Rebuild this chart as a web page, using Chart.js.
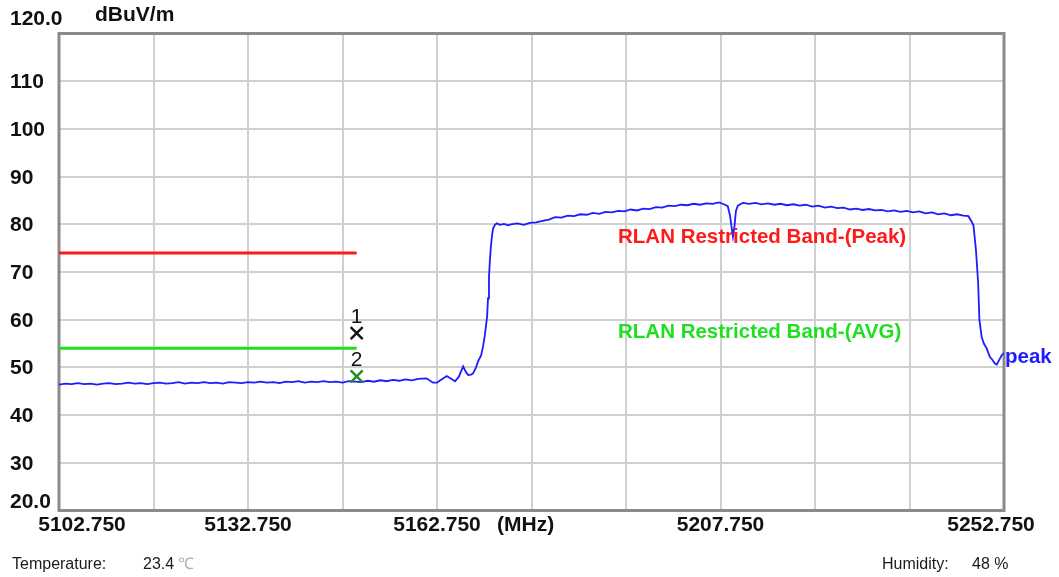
<!DOCTYPE html>
<html>
<head>
<meta charset="utf-8">
<script src="https://cdn.jsdelivr.net/npm/chart.js@4.4.1/dist/chart.umd.min.js"></script>
<style>
  html, body { margin: 0; padding: 0; background: #fff; }
  #wrap { width: 1059px; height: 577px; position: relative; }
</style>
</head>
<body>
<div id="wrap"><canvas id="specChart"></canvas></div>
<script>
// --- data ---
const freqMin = 5102.75;
const freqMax = 5252.75;
const levelMin = 20;
const levelMax = 120;

// vertical grid every 15 MHz
const xGridFreqs = [5102.75, 5117.75, 5132.75, 5147.75, 5162.75, 5177.75, 5192.75, 5207.75, 5222.75, 5237.75, 5252.75];
const xTickFreqs = [5102.75, 5132.75, 5162.75, 5207.75, 5252.75];
const xTickLabels = ['5102.750', '5132.750', '5162.750', '5207.750', '5252.750'];
const yTickValues = [20, 30, 40, 50, 60, 70, 80, 90, 100, 110, 120];
const yTickLabels = ['20.0', '30', '40', '50', '60', '70', '80', '90', '100', '110', '120.0'];

// measured peak trace (MHz / dBuV/m)
const traceFreqs = [
  // noise floor
  5102.75, 5103.75, 5104.75, 5105.75, 5106.75, 5107.75, 5108.75, 5109.75, 5110.75, 5111.75,
  5112.75, 5113.75, 5114.75, 5115.75, 5116.75, 5117.75, 5118.75, 5119.75, 5120.75, 5121.75,
  5122.75, 5123.75, 5124.75, 5125.75, 5126.75, 5127.75, 5128.75, 5129.75, 5130.75, 5131.75,
  5132.75, 5133.75, 5134.75, 5135.75, 5136.75, 5137.75, 5138.75, 5139.75, 5140.75, 5141.75,
  5142.75, 5143.75, 5144.75, 5145.75, 5146.75, 5147.75, 5148.75, 5149.75, 5150.75, 5151.75,
  5152.75, 5153.75, 5154.75, 5155.75, 5156.75, 5157.75, 5158.75, 5159.75,
  // lower band edge
  5161.1, 5162.1, 5162.75, 5163.4, 5164.3, 5165.0, 5165.6, 5166.2, 5166.9, 5167.35,
  5167.7, 5168.15, 5168.45, 5168.95, 5169.25, 5169.75, 5170.05, 5170.35, 5170.7, 5170.85,
  5171.0, 5171.15, 5171.3, 5171.5, 5171.65, 5171.95, 5172.25, 5172.75, 5173.4, 5174.0,
  // in-band
  5174.5, 5175.5, 5176.5, 5177.5, 5178.5, 5179.5, 5180.5, 5181.5, 5182.5, 5183.5,
  5184.5, 5185.5, 5186.5, 5187.5, 5188.5, 5189.5, 5190.5, 5191.5, 5192.5, 5193.5,
  5194.5, 5195.5, 5196.5, 5197.5, 5198.5, 5199.5, 5200.5, 5201.5, 5202.5, 5203.5,
  5204.5, 5205.5, 5206.5, 5207.5, 5208.3, 5208.9,
  // centre notch
  5209.25, 5209.5, 5209.73, 5209.97, 5210.2, 5210.5, 5211.3,
  5212.3, 5213.3, 5214.3, 5215.3, 5216.3, 5217.3, 5218.3, 5219.3, 5220.3, 5221.3,
  5222.3, 5223.3, 5224.3, 5225.3, 5226.3, 5227.3, 5228.3, 5229.3, 5230.3, 5231.3,
  5232.3, 5233.3, 5234.3, 5235.3, 5236.3, 5237.3, 5238.3, 5239.3, 5240.3, 5241.3,
  5242.3, 5243.3, 5244.3, 5245.3, 5246.3, 5247.1, 5247.6,
  // upper band edge
  5247.9, 5248.3, 5248.65, 5248.85, 5249.2, 5249.55, 5250.0, 5250.5, 5250.9, 5251.3,
  5251.6, 5251.85, 5252.4, 5252.75
];
const traceLevels = [
  46.4, 46.6, 46.5, 46.7, 46.5, 46.6, 46.4, 46.6, 46.7, 46.5,
  46.6, 46.8, 46.6, 46.7, 46.5, 46.7, 46.8, 46.6, 46.7, 46.9,
  46.6, 46.8, 46.7, 46.9, 46.7, 46.8, 46.6, 46.9, 46.8, 46.7,
  46.9, 46.8, 47.0, 46.8, 46.9, 46.7, 47.0, 46.9, 47.1, 46.8,
  47.0, 46.9, 47.1, 46.9, 47.0, 46.8, 47.1, 47.0, 46.9, 47.2,
  47.0, 47.3, 47.1, 47.4, 47.2, 47.5, 47.3, 47.6,
  47.7, 46.8, 46.8, 47.4, 48.2, 47.6, 47.1, 48.0, 50.2, 49.0,
  48.4, 48.5, 48.7, 50.0, 51.2, 52.5, 54.3, 56.8, 60.6, 64.5,
  69.0, 72.5, 75.3, 77.8, 79.1, 79.9, 80.2, 79.9, 80.1, 79.8,
  80.0, 80.2, 79.9, 80.3, 80.4, 80.7, 81.0, 81.5, 81.4, 81.8,
  81.7, 82.1, 82.0, 82.4, 82.2, 82.6, 82.5, 82.8, 82.7, 83.1,
  82.9, 83.3, 83.2, 83.6, 83.5, 83.9, 83.8, 84.1, 84.0, 84.3,
  84.1, 84.4, 84.3, 84.6, 84.2, 83.8,
  81.9, 79.5, 77.4, 79.6, 82.8, 83.9, 84.5,
  84.3, 84.5, 84.2, 84.4, 84.1, 84.3, 84.0, 84.2, 83.9, 84.1,
  83.7, 83.9, 83.5, 83.7, 83.4, 83.5, 83.1, 83.3, 83.0, 83.2,
  82.9, 83.0, 82.7, 82.9, 82.6, 82.8, 82.5, 82.7, 82.3, 82.5,
  82.1, 82.3, 81.9, 82.1, 81.8, 81.7, 80.6,
  79.8, 74.6, 67.6, 59.9, 56.4, 55.0, 54.0, 52.2, 51.6, 50.8,
  50.6, 51.2, 52.6, 53.0
];

// restricted band limit lines
const limitFreqs = [5102.75, 5150.0];
const peakLimit = [74, 74];
const avgLimit = [54, 54];

// markers
const markerNames = ['1', '2'];
const markerFreqs = [5150.0, 5150.0];
const markerLevels = [57.2, 48.1];

// --- styles ---
const AXIS_FONT = 'bold 21px "Liberation Sans", Arial, sans-serif';
const NOTE_FONT = 'bold 20.5px "Liberation Sans", Arial, sans-serif';
const FOOT_FONT = '16px "Liberation Sans", Arial, sans-serif';
const TRACE_BLUE = '#1c1cff';
const xLabelShift = [23, 0, 0, 0, -13];

function pts(xs, ys) {
    return xs.map(function (x, i) { return { x: x, y: ys[i] }; });
}

const labelPlugin = {
    id: 'specLabels',
    beforeDatasetsDraw: function (chart) {
        const a = chart.chartArea;
        const c = chart.ctx;
        c.save();
        c.strokeStyle = '#8a8a8a';
        c.lineWidth = 3;
        c.strokeRect(a.left, a.top, a.right - a.left, a.bottom - a.top);
        c.restore();
    },
    afterDraw: function (chart) {
        const c = chart.ctx;
        const xs = chart.scales.x;
        const ys = chart.scales.y;
        c.save();
        c.fillStyle = '#111';
        c.font = AXIS_FONT;
        c.textBaseline = 'alphabetic';

        // y tick labels
        c.textAlign = 'left';
        yTickValues.forEach(function (v, i) {
            let py = ys.getPixelForValue(v) + 7;
            if (i === 0) py = ys.getPixelForValue(v) - 2.5;
            if (i === yTickValues.length - 1) py = ys.getPixelForValue(v) - 8.5;
            c.fillText(yTickLabels[i], 10, py);
        });
        c.fillText('dBuV/m', 95, 21);

        // x tick labels
        c.textAlign = 'center';
        xTickFreqs.forEach(function (f, i) {
            c.fillText(xTickLabels[i], xs.getPixelForValue(f) + xLabelShift[i], 531);
        });
        c.textAlign = 'left';
        c.fillText('(MHz)', xs.getPixelForValue(5162.75) + 60, 531);

        // limit line notes
        c.font = NOTE_FONT;
        c.fillStyle = '#ff1a1a';
        c.fillText('RLAN Restricted Band-(Peak)', 618, 243);
        c.fillStyle = '#1ee01e';
        c.fillText('RLAN Restricted Band-(AVG)', 618, 338);
        c.fillStyle = TRACE_BLUE;
        c.fillText('peak', xs.right + 1, 363);

        // marker numbers
        c.fillStyle = '#111';
        c.font = '21px "Liberation Sans", Arial, sans-serif';
        c.textAlign = 'center';
        markerNames.forEach(function (n, i) {
            c.fillText(n, xs.getPixelForValue(markerFreqs[i]), ys.getPixelForValue(markerLevels[i]) - 10);
        });

        // footer
        c.font = FOOT_FONT;
        c.textAlign = 'left';
        c.fillStyle = '#1a1a1a';
        c.fillText('Temperature:', 12, 569);
        c.fillText('23.4', 143, 569);
        c.fillStyle = '#b0b0b0';
        c.fillText('\u2103', 178, 569);
        c.fillStyle = '#1a1a1a';
        c.fillText('Humidity:', 882, 569);
        c.fillText('48 %', 972, 569);
        c.restore();
    }
};

const ctx = document.getElementById('specChart').getContext('2d');
window.specChart = new Chart(ctx, {
    type: 'line',
    data: {
        datasets: [
            {
                label: 'peak',
                data: pts(traceFreqs, traceLevels),
                borderColor: TRACE_BLUE,
                borderWidth: 1.8,
                pointRadius: 0,
                tension: 0,
                order: 2
            },
            {
                label: 'Peak limit',
                data: pts(limitFreqs, peakLimit),
                borderColor: '#ff1a1a',
                borderWidth: 3,
                pointRadius: 0,
                order: 3
            },
            {
                label: 'AVG limit',
                data: pts(limitFreqs, avgLimit),
                borderColor: '#1ee01e',
                borderWidth: 3,
                pointRadius: 0,
                order: 3
            },
            {
                type: 'scatter',
                label: 'markers',
                data: pts(markerFreqs, markerLevels),
                pointStyle: 'crossRot',
                pointRadius: 8.5,
                pointBorderWidth: 2.4,
                pointBorderColor: ['#111111', '#228b22'],
                pointBackgroundColor: 'transparent',
                order: 1
            }
        ]
    },
    options: {
        responsive: true,
        maintainAspectRatio: false,
        animation: false,
        events: [],
        layout: { padding: { left: 59, right: 55, top: 33.5, bottom: 66.5 } },
        plugins: {
            legend: { display: false },
            tooltip: { enabled: false }
        },
        scales: {
            x: {
                type: 'linear',
                min: freqMin,
                max: freqMax,
                afterBuildTicks: function (scale) {
                    scale.ticks = xGridFreqs.map(function (v) { return { value: v }; });
                },
                afterFit: function (scale) { scale.height = 0; },
                ticks: { display: false },
                grid: { color: '#d0d0d0', lineWidth: 2, drawTicks: false },
                border: { display: false }
            },
            y: {
                min: levelMin,
                max: levelMax,
                afterBuildTicks: function (scale) {
                    scale.ticks = yTickValues.map(function (v) { return { value: v }; });
                },
                afterFit: function (scale) { scale.width = 0; },
                ticks: { display: false },
                grid: { color: '#d0d0d0', lineWidth: 2, drawTicks: false },
                border: { display: false }
            }
        }
    },
    plugins: [labelPlugin]
});
</script>
</body>
</html>
